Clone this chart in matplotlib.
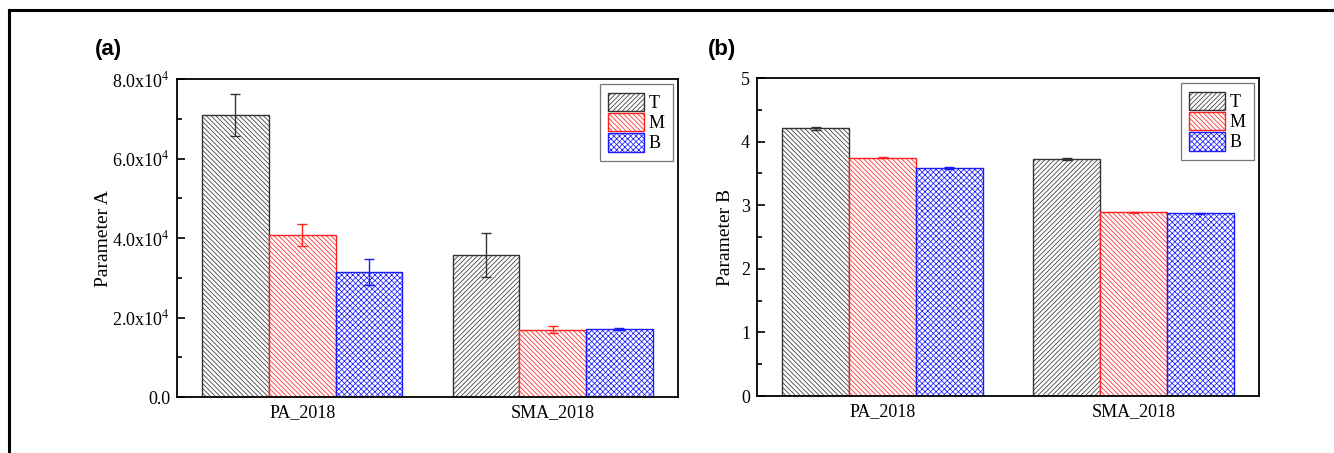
import numpy as np
import matplotlib.pyplot as plt
from matplotlib.patches import Patch
from matplotlib.lines import Line2D
from matplotlib.ticker import MultipleLocator, FuncFormatter

plt.rcParams['font.family'] = ['Liberation Serif', 'DejaVu Serif']
plt.rcParams['mathtext.fontset'] = 'stix'
plt.rcParams['hatch.linewidth'] = 0.55

# data
groups = ['PA_2018', 'SMA_2018']
series = ['T', 'M', 'B']
param_a = {'T': [71000, 35800], 'M': [40800, 16900], 'B': [31500, 17100]}
param_a_err = {'T': [5300, 5500], 'M': [2800, 900], 'B': [3300, 300]}
param_b = {'T': [4.21, 3.73], 'M': [3.75, 2.89], 'B': [3.59, 2.87]}
param_b_err = {'T': [0.02, 0.02], 'M': [0.01, 0.01], 'B': [0.015, 0.015]}

colors = {'T': '#333333', 'M': '#ff2020', 'B': '#1a1aff'}
# T uses a different hatch direction in each group
bs = '\\' * 7
fs = '/' * 7
hatches = {'T': [bs, fs], 'M': [bs, bs], 'B': ['xxxxxx', 'xxxxxx']}
legend_hatch = {'T': fs, 'M': bs, 'B': 'xxxxxx'}


def draw_panel(ax, values, errors, ylim, major, minor, fmt, ylabel, labelpad):
    x = np.arange(1, len(groups) + 1)
    width = 0.8 / 3
    for i, s in enumerate(series):
        pos = x + (i - 1) * width
        bars = ax.bar(pos, values[s], width=width, facecolor='white',
                      edgecolor=colors[s], linewidth=1.0, zorder=2)
        for b, h in zip(bars, hatches[s]):
            b.set_hatch(h)
        ax.errorbar(pos, values[s], yerr=errors[s], fmt='none', ecolor=colors[s],
                    elinewidth=1.0, capsize=3.5, capthick=1.0, zorder=3)

    ax.set_xlim(0.5, 2.5)
    ax.set_ylim(*ylim)
    ax.set_xticks(x)
    ax.set_xticklabels(groups, fontsize=13)
    ax.tick_params(axis='x', length=0, pad=5)
    ax.yaxis.set_major_locator(MultipleLocator(major))
    ax.yaxis.set_minor_locator(MultipleLocator(minor))
    ax.yaxis.set_major_formatter(FuncFormatter(fmt))
    ax.tick_params(axis='y', which='major', direction='in', length=6, width=1.2,
                   labelsize=13, right=False, pad=5)
    ax.tick_params(axis='y', which='minor', direction='in', length=3.5, width=1.2,
                   right=False)
    ax.set_ylabel(ylabel, fontsize=14, labelpad=labelpad)
    for sp in ax.spines.values():
        sp.set_linewidth(1.3)

    handles = [Patch(facecolor='white', edgecolor=colors[s], hatch=legend_hatch[s],
                     linewidth=1.0) for s in series]
    leg = ax.legend(handles, series, loc='upper right', fontsize=13,
                    fancybox=False, edgecolor='#555555', handlelength=2.0,
                    handleheight=1.2, handletextpad=0.25, labelspacing=0.05,
                    borderpad=0.45, borderaxespad=0.3)
    leg.get_frame().set_linewidth(0.9)


def fmt_a(v, pos):
    if v == 0:
        return '0.0'
    return r'%.1fx10$^{4}$' % (v / 1e4)


def fmt_b(v, pos):
    return '%d' % v


fig = plt.figure(figsize=(13.34, 4.53), dpi=100)
ax1 = fig.add_axes([0.1327, 0.1236, 0.3755, 0.702])
ax2 = fig.add_axes([0.5675, 0.1258, 0.3763, 0.702])

draw_panel(ax1, param_a, param_a_err, (0, 80000), 20000, 10000, fmt_a, 'Parameter A', 0)
draw_panel(ax2, param_b, param_b_err, (0, 5), 1, 0.5, fmt_b, 'Parameter B', 5)

fig.text(95 / 1334, 1 - 49 / 453, '(a)', family='Liberation Sans', weight='bold',
         fontsize=16, va='center', ha='left')
fig.text(708 / 1334, 1 - 49 / 453, '(b)', family='Liberation Sans', weight='bold',
         fontsize=16, va='center', ha='left')

# outer frame (only top and left edges visible in the crop)
fig.add_artist(Line2D([9 / 1334, 1], [1 - 10 / 453, 1 - 10 / 453], color='black',
                      linewidth=2.2, transform=fig.transFigure))
fig.add_artist(Line2D([9 / 1334, 9 / 1334], [0, 1 - 10 / 453], color='black',
                      linewidth=2.2, transform=fig.transFigure))

fig.savefig('out.png', dpi=100)
